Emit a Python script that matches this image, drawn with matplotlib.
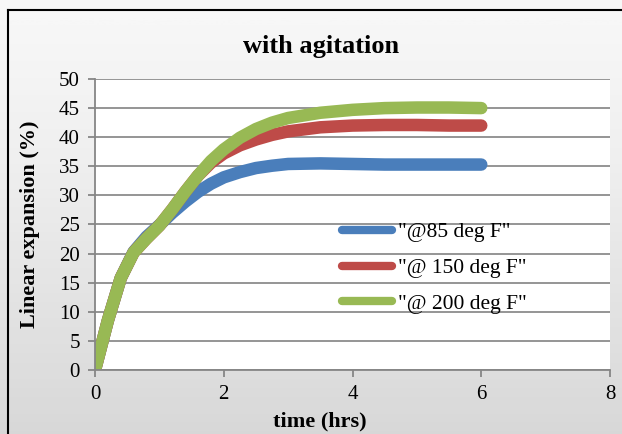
import numpy as np
import matplotlib.pyplot as plt
from matplotlib.lines import Line2D

# time (hrs) and linear expansion (%)
t = [0, 0.2, 0.4, 0.6, 0.8, 1.0, 1.2, 1.4, 1.6, 1.8, 2.0, 2.25, 2.5, 2.75, 3.0, 3.5, 4.0, 4.5, 5.0, 5.5, 6.0]
f85 = [0, 8.5, 15.8, 20.3, 22.9, 24.9, 27.0, 28.9, 30.6, 32.0, 33.1, 34.0, 34.7, 35.1, 35.4, 35.5, 35.4, 35.3, 35.3, 35.3, 35.3]
f150 = [0, 8.5, 15.8, 20.2, 22.6, 24.8, 27.6, 30.6, 33.4, 35.6, 37.2, 38.6, 39.6, 40.4, 41.0, 41.7, 42.0, 42.1, 42.1, 42.0, 42.0]
f200 = [0, 8.5, 15.8, 20.2, 22.6, 24.8, 27.6, 30.6, 33.4, 35.9, 37.9, 39.9, 41.4, 42.5, 43.3, 44.2, 44.7, 45.0, 45.1, 45.1, 45.0]
labels = ['"@85 deg F"', '"@ 150 deg F"', '"@ 200 deg F"']
colors = ['#4a7ebb', '#be4b48', '#98b954']

plt.rcParams['font.family'] = ['Liberation Serif', 'DejaVu Serif']

fig = plt.figure(figsize=(6.22, 4.34), dpi=100)

# gradient background of the chart area
bg = fig.add_axes([0, 0, 1, 1], zorder=-2)
grad = np.linspace(0, 1, 256).reshape(-1, 1)
bg.imshow(grad, aspect='auto', cmap='Greys', vmin=-0.3, vmax=4.8,
          extent=[0, 1, 0, 1], origin='upper')
bg.set_xlim(0, 1)
bg.set_ylim(0, 1)
bg.axis('off')
# chart border: left and top edges only, the rest is cut off in the picture
top = 1 - 10 / 434
fig.add_artist(Line2D([8 / 622, 8 / 622], [0, top], color='black', linewidth=1.5))
fig.add_artist(Line2D([8 / 622, 1.0], [top, top], color='black', linewidth=1.5))

ax = fig.add_axes([95 / 622, 64 / 434, 515 / 622, 291 / 434])
ax.set_facecolor('white')
for y, lab, c in zip([f85, f150, f200], labels, colors):
    ax.plot(t, y, color=c, linewidth=9, label=lab,
            solid_capstyle='round', solid_joinstyle='round')

ax.set_xlim(0, 8)
ax.set_ylim(0, 50)
ax.set_xticks([0, 2, 4, 6, 8])
ax.set_yticks(range(0, 51, 5))
ax.grid(axis='y', color='#8c8c8c', linewidth=1.3)
ax.set_axisbelow(True)
for s in ['top', 'right']:
    ax.spines[s].set_visible(False)
for s in ['left', 'bottom']:
    ax.spines[s].set_color('#868686')
    ax.spines[s].set_linewidth(1.3)
ax.tick_params(colors='#868686', labelcolor='black', labelsize=15,
               length=5, width=1.3)
ax.tick_params(axis='y', pad=6)
ax.tick_params(axis='x', pad=6)

fig.text(320 / 622, 1 - 421 / 434, 'time (hrs)', fontsize=16,
         fontweight='bold', ha='center', va='center')
fig.text(30 / 622, 1 - 224 / 434, 'Linear expansion (%)', fontsize=16,
         fontweight='bold', ha='center', va='center', rotation=90)
fig.text(321 / 622, 1 - 46 / 434, 'with agitation', fontsize=19,
         fontweight='bold', ha='center', va='center')

leg = ax.legend(loc='center left', bbox_to_anchor=(331 / 622, 1 - 268 / 434),
                bbox_transform=fig.transFigure, frameon=False, fontsize=15.5,
                borderpad=0, handlelength=2.35, handletextpad=0.25,
                labelspacing=0.72)
for line in leg.get_lines():
    line.set_linewidth(6)

plt.savefig('out.png', dpi=100)
